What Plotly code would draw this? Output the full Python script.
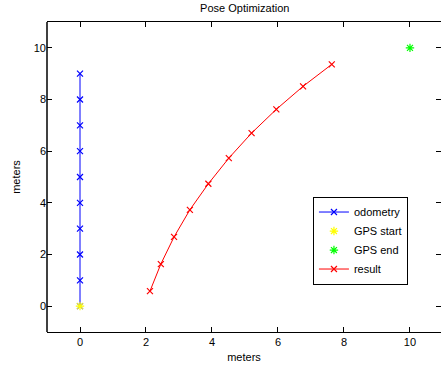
import plotly.graph_objects as go

odo_x = [0, 0, 0, 0, 0, 0, 0, 0, 0, 0]
odo_y = [0, 1, 2, 3, 4, 5, 6, 7, 8, 9]
gps_start_x = [0]
gps_start_y = [0]
gps_end_x = [10]
gps_end_y = [10]
res_x = [2.12, 2.45, 2.85, 3.33, 3.89, 4.51, 5.20, 5.95, 6.76, 7.63]
res_y = [0.58, 1.63, 2.68, 3.73, 4.74, 5.73, 6.70, 7.62, 8.51, 9.36]
tick_vals = [0, 2, 4, 6, 8, 10]

FONT = "Liberation Sans, Arial, sans-serif"

fig = go.Figure()
fig.add_trace(go.Scatter(x=odo_x, y=odo_y, mode="lines+markers", name="odometry",
                         line=dict(color="#0000ff", width=1),
                         marker=dict(symbol="x-thin-open", size=6, color="#0000ff",
                                     line=dict(color="#0000ff", width=1.2))))
fig.add_trace(go.Scatter(x=gps_start_x, y=gps_start_y, mode="markers", name="GPS start",
                         marker=dict(symbol="asterisk-open", size=7, color="#ffff00",
                                     line=dict(color="#ffff00", width=1.2))))
fig.add_trace(go.Scatter(x=gps_end_x, y=gps_end_y, mode="markers", name="GPS end",
                         marker=dict(symbol="asterisk-open", size=7, color="#00ff00",
                                     line=dict(color="#00ff00", width=1.2))))
fig.add_trace(go.Scatter(x=res_x, y=res_y, mode="lines+markers", name="result",
                         line=dict(color="#ff0000", width=1),
                         marker=dict(symbol="x-thin-open", size=6, color="#ff0000",
                                     line=dict(color="#ff0000", width=1.2))))

axis_common = dict(showgrid=False, zeroline=False, linecolor="black", linewidth=1,
                   mirror="ticks", ticks="inside", ticklen=5, tickcolor="black",
                   tickfont=dict(family=FONT, size=11, color="black"), tickvals=tick_vals)

fig.update_layout(
    width=441, height=368,
    margin=dict(l=47, r=0, t=22, b=36),
    paper_bgcolor="white", plot_bgcolor="white",
    title=dict(text="Pose Optimization", x=0.555, xanchor="center", y=1 - 8 / 368, yanchor="middle",
               font=dict(family=FONT, size=11, color="black")),
    xaxis=dict(range=[-1, 10.94], showline=True,
               title=dict(text="meters", font=dict(family=FONT, size=11, color="black"), standoff=6),
               **axis_common),
    yaxis=dict(range=[-1, 11], showline=False,
               title=dict(text="meters", font=dict(family=FONT, size=11, color="black"), standoff=10),
               **axis_common),
    legend=dict(x=0.675, y=0.437, xanchor="left", yanchor="top", bgcolor="white",
                bordercolor="black", borderwidth=1, font=dict(family=FONT, size=11, color="black"),
                tracegroupgap=0, itemwidth=30),
    showlegend=True,
    shapes=[dict(type="line", xref="paper", yref="paper", x0=0, x1=0, y0=0, y1=1,
                 line=dict(color="black", width=1.5), layer="above")],
)

fig.write_html("out.html", post_script="document.body.style.margin='0';",
               config={"displayModeBar": False})
